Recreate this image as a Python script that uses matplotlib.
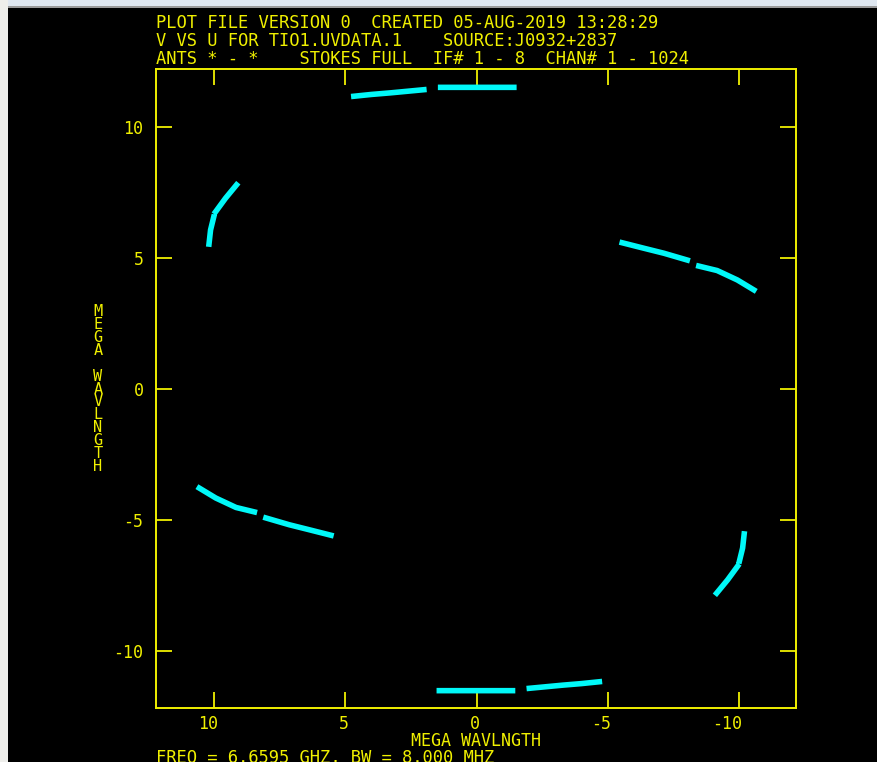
import matplotlib
matplotlib.use("Agg")
import numpy as np
import matplotlib.pyplot as plt
from matplotlib.transforms import ScaledTranslation
from matplotlib.patches import Rectangle

plt.rcParams["font.family"] = ["DejaVu Sans Mono"]
plt.rcParams["axes.unicode_minus"] = False

# ---- data (mega-wavelengths); NaN separates scan segments ----
u_track = [4.68, 4.00, 3.28, 2.01, np.nan,
           1.37, 0.00, -1.42, np.nan,
           9.15, 9.57, 9.95, np.nan,
           10.02, 10.14, 10.20, np.nan,
           -5.55, -6.38, -7.14, -8.03, np.nan,
           -8.47, -9.17, -9.94, -10.57]
v_track = [11.17, 11.24, 11.30, 11.42, np.nan,
           11.51, 11.51, 11.51, np.nan,
           7.79, 7.28, 6.76, np.nan,
           6.56, 6.07, 5.53, np.nan,
           5.58, 5.37, 5.18, 4.92, np.nan,
           4.69, 4.52, 4.16, 3.78]

tick_values = [10, 5, 0, -5, -10]
tick_labels = ["10", "5", "0", "-5", "-10"]

header_lines = [
    "PLOT FILE VERSION 0  CREATED 05-AUG-2019 13:28:29",
    "V VS U FOR TIO1.UVDATA.1    SOURCE:J0932+2837",
    "ANTS * - *    STOKES FULL  IF# 1 - 8  CHAN# 1 - 1024",
]
footer_line = "FREQ = 6.6595 GHZ, BW = 8.000 MHZ"
axis_label = "MEGA WAVLNGTH"

YEL = "#f0f000"
CYAN = "#00f8f8"

W, H = 877, 762
fig = plt.figure(figsize=(W / 100, H / 100), dpi=100, facecolor="black")

# window frame strips
fig.patches.append(Rectangle((0, 1 - 6 / H), 1, 6 / H, transform=fig.transFigure,
                             facecolor="#dfe7f0", edgecolor="none", zorder=-1))
fig.patches.append(Rectangle((0, 1 - 7.5 / H), 1, 1.5 / H, transform=fig.transFigure,
                             facecolor="#9a9a9a", edgecolor="none", zorder=-1))
fig.patches.append(Rectangle((0, 0), 8 / W, 1, transform=fig.transFigure,
                             facecolor="#eeeeeb", edgecolor="none", zorder=-1))

left, right, top, bottom = 156, 795.6, 69, 707.7
ax = fig.add_axes([left / W, 1 - bottom / H, (right - left) / W, (bottom - top) / H])
ax.set_facecolor("black")
ax.set_xlim(12.22, -12.16)
ax.set_ylim(-12.16, 12.21)

u = np.array(u_track)
v = np.array(v_track)
for uu, vv in ((u, v), (-u, -v)):
    ax.plot(uu, vv, color=CYAN, lw=4.0, solid_capstyle="projecting")

for s in ax.spines.values():
    s.set_color(YEL)
    s.set_linewidth(1.4)

ax.set_xticks(tick_values)
ax.set_xticklabels(tick_labels)
ax.set_yticks(tick_values)
ax.set_yticklabels(tick_labels)
ax.tick_params(direction="in", length=11.5, width=1.3, color=YEL,
               top=True, right=True, labelcolor=YEL, labelsize=12)
ax.tick_params(axis="x", pad=5)
ax.tick_params(axis="y", pad=9)
shift = ScaledTranslation(3.5 / 100, 0, fig.dpi_scale_trans)
for lbl in ax.get_xticklabels():
    lbl.set_ha("right")
    lbl.set_transform(lbl.get_transform() + shift)

# header lines
for i, line in enumerate(header_lines):
    fig.text(left / W, 1 - (28 + 18 * i) / H, line, color=YEL, fontsize=12.3,
             ha="left", va="baseline")

# x-axis label and footer
fig.text(476 / W, 1 - 746.5 / H, axis_label, color=YEL, fontsize=12,
         ha="center", va="baseline")
fig.text(left / W, 1 - 763 / H, footer_line, color=YEL, fontsize=12.3,
         ha="left", va="baseline")

# stacked y-axis label
fig.text(98 / W, 1 - 389 / H, "\n".join(axis_label), color=YEL, fontsize=11,
         ha="center", va="center", multialignment="center", linespacing=0.82)

fig.savefig("out.png", dpi=100, facecolor=fig.get_facecolor())
